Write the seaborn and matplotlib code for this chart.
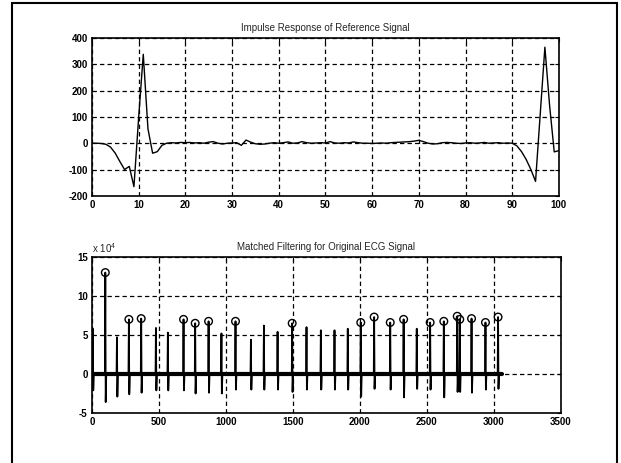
import numpy as np
import matplotlib
matplotlib.use("Agg")
from matplotlib import pyplot as plt
from matplotlib.patches import Rectangle
import seaborn as sns

# impulse response of the reference signal, samples 0..100
impulse = [0, 0, -1, -4, -15, -38, -70, -100, -88, -165,
           95, 338, 55, -38, -32, -8, 0, 2, 1, 3,
           2, 3, 1, 2, 0, 4, 6, 0, -3, 0,
           1, 2, -8, 12, 4, -2, -4, -3, 0, 2,
           0, 2, 5, 0, 1, 6, 2, 0, 1, 2,
           1, 6, 1, 0, 2, 1, 5, 2, 0, 0,
           -1, 0, 1, 0, 2, 3, 4, 5, 6, 8,
           11, 6, 0, -3, -2, 2, 3, 2, 0, -1,
           1, 2, 0, 1, 3, 0, 1, 2, 0, 1,
           0, -10, -32, -62, -100, -145, 110, 365, 145, -33,
           -28]

# matched filter output (units of 1e4): one spike per beat
beat_pos = [7, 100, 187, 276, 368, 478, 567, 684, 771, 871,
            967, 1072, 1187, 1284, 1386, 1495, 1602, 1709, 1811, 1910,
            2007, 2107, 2227, 2327, 2425, 2525, 2627, 2727, 2746, 2834,
            2938, 3032]
beat_peak = [5.8, 13.0, 4.7, 7.0, 7.1, 5.9, 5.3, 7.0, 6.5, 6.75,
             5.2, 6.75, 4.4, 6.2, 5.4, 6.5, 6.0, 5.6, 5.6, 5.8,
             6.6, 7.3, 6.6, 7.0, 5.8, 6.6, 6.75, 7.4, 7.0, 7.1,
             6.6, 7.3]
beat_dip = [-2.1, -3.6, -2.9, -2.6, -2.4, -2.1, -2.1, -2.1, -2.5, -2.4,
            -2.5, -2.0, -2.0, -2.0, -2.0, -2.3, -2.0, -2.0, -2.0, -2.0,
            -2.9, -1.9, -2.0, -3.0, -1.9, -2.0, -3.0, -2.3, -2.3, -2.4,
            -2.0, -1.9]
detected = [1, 3, 4, 7, 8, 9, 11, 15, 20, 21, 22, 23, 25, 26, 27, 28, 29, 30, 31]
sig_len = 3062

sns.set_style("white")
plt.rcParams['font.family'] = ['Liberation Sans', 'DejaVu Sans']
plt.rcParams['mathtext.fontset'] = 'custom'
plt.rcParams['mathtext.rm'] = 'Liberation Sans'
plt.rcParams['axes.unicode_minus'] = False

fig = plt.figure(figsize=(6.21, 4.63), dpi=100)
fig.patch.set_facecolor('white')
fig.patches.append(Rectangle((12 / 621, -0.02), 605 / 621, 1.02 - 3 / 463,
                             transform=fig.transFigure, fill=False,
                             edgecolor='black', linewidth=1.5))

ax1 = fig.add_axes([0.148, 0.577, 0.752, 0.341])
ax2 = fig.add_axes([0.148, 0.108, 0.755, 0.337])


def matlab_axes(ax):
    ax.grid(True, color='black', linestyle=(0, (3.5, 2.5)), linewidth=0.9)
    ax.set_axisbelow(True)
    for s in ax.spines.values():
        s.set_color('black')
        s.set_linewidth(1.2)
    ax.tick_params(direction='in', length=3, width=0.8, top=True, right=True,
                   labelsize=7, pad=3, colors='black')
    for lab in ax.get_xticklabels() + ax.get_yticklabels():
        lab.set_fontweight('bold')
    ax.set_xlabel('')
    ax.set_ylabel('')


x_imp = np.arange(len(impulse))
sns.lineplot(ax=ax1, x=x_imp, y=impulse, color='black', linewidth=1.0)
ax1.set_xlim(0, 100)
ax1.set_ylim(-200, 400)
ax1.set_xticks(np.arange(0, 101, 10))
ax1.set_yticks(np.arange(-200, 401, 100))
ax1.set_title('Impulse Response of Reference Signal', fontsize=7, pad=5)
matlab_axes(ax1)

sig_x = [0]
sig_y = [0.0]
for p, h, d in zip(beat_pos, beat_peak, beat_dip):
    sig_x += [p - 3, p, p + 3, p + 7]
    sig_y += [0.0, h, d, 0.0]
sig_x.append(sig_len)
sig_y.append(0.0)

ax2.plot([0, sig_len], [0, 0], color='black', linewidth=3.0)
sns.lineplot(ax=ax2, x=sig_x, y=sig_y, color='black', linewidth=1.3,
             sort=False, estimator=None)
sns.scatterplot(ax=ax2, x=[beat_pos[i] for i in detected],
                y=[beat_peak[i] for i in detected],
                marker='o', s=30, facecolor='none', edgecolor='black',
                linewidth=1.0, zorder=5)
ax2.set_xlim(0, 3500)
ax2.set_ylim(-5, 15)
ax2.set_xticks(np.arange(0, 3501, 500))
ax2.set_yticks([-5, 0, 5, 10, 15])
ax2.set_title('Matched Filtering for Original ECG Signal', fontsize=7, pad=5)
matlab_axes(ax2)
ax2.text(0.0, 1.015, r'x 10$^4$', transform=ax2.transAxes, fontsize=7,
         ha='left', va='bottom')

fig.savefig('out.png', dpi=100)
